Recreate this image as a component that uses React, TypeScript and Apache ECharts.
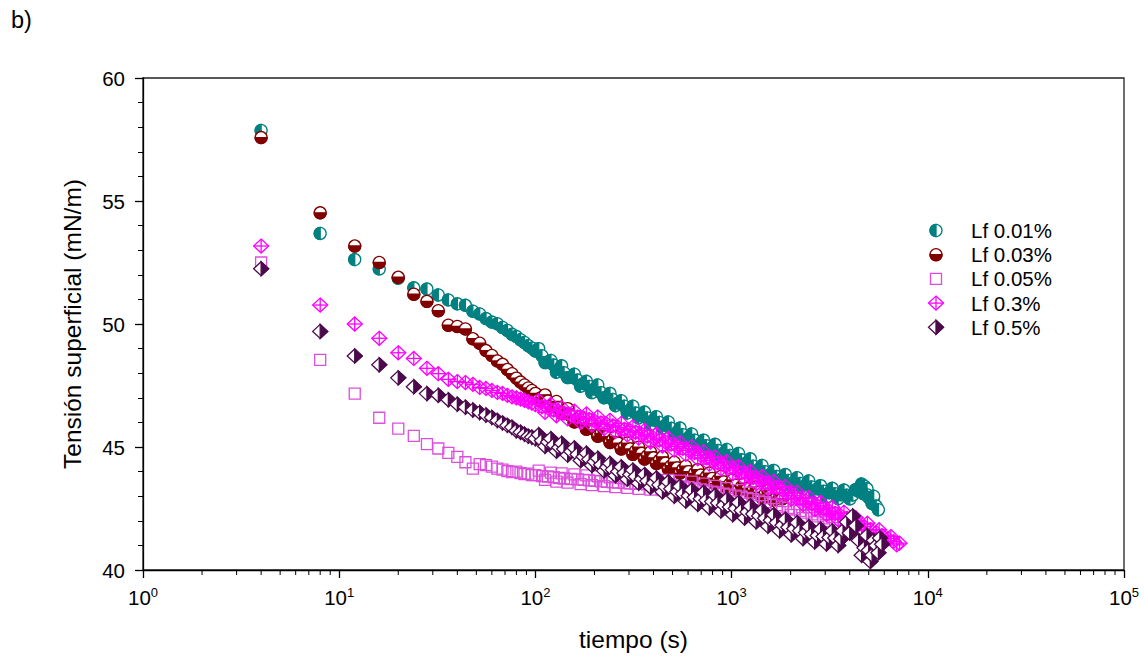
import { useEffect, useRef } from "react";
import * as echarts from "echarts";

// Tiempo de medida (s), común a todas las series
const tiempo = [
  4, 8, 12, 16, 20, 24, 28, 32, 36, 40,
  44, 48, 52, 56, 60, 64, 68, 72, 76, 80,
  84, 88, 92, 96, 100, 108, 116, 124, 132, 140,
  152, 164, 176, 188, 200, 216, 232, 248, 264, 284,
  304, 324, 348, 372, 400, 428, 460, 492, 528, 564,
  604, 648, 696, 744, 796, 852, 912, 980, 1048, 1124,
  1204, 1288, 1380, 1480, 1584, 1696, 1816, 1944, 2084, 2232,
  2392, 2560, 2744, 2940, 3148, 3372, 3612, 3868, 4144, 4440,
  4756, 5092, 5456, 5844, 6260, 6704, 7180,
];

// Lecturas intermedias (s), a partir de 100 s
const tiempoIntermedio = [
  104, 112, 120, 128, 136, 146, 158, 170, 182, 194,
  208, 224, 240, 256, 274, 294, 314, 336, 360, 386,
  414, 444, 476, 510, 546, 584, 626, 672, 720, 770,
  824, 882, 946, 1014, 1086, 1164, 1246, 1334, 1430, 1532,
  1640, 1756, 1880, 2014, 2158, 2312, 2476, 2652, 2842, 3044,
  3260, 3492, 3740, 4006, 4292, 4598, 4924, 5274, 5650, 6052,
  6482, 6942,
];

// Tensión superficial (mN/m) de cada concentración
const lf001 = [
  57.87, 53.68, 52.62, 52.24, 51.86, 51.47, 51.42, 51.18, 50.98, 50.82,
  50.76, 50.52, 50.41, 50.22, 50.08, 50.01, 49.86, 49.74, 49.58, 49.49,
  49.36, 49.25, 49.12, 49.02, 48.9, 48.71, 48.46, 48.33, 48.15, 48.02,
  47.83, 47.72, 47.58, 47.46, 47.36, 47.21, 47.04, 46.93, 46.79, 46.66,
  46.5, 46.38, 46.27, 46.18, 46.1, 46.0, 45.88, 45.76, 45.6, 45.5,
  45.38, 45.28, 45.14, 45.05, 44.96, 44.86, 44.75, 44.66, 44.6, 44.48,
  44.38, 44.22, 44.1, 44.0, 43.9, 43.8, 43.72, 43.64, 43.58, 43.52,
  43.46, 43.38, 43.3, 43.2, 43.14, 43.1, 43.06, 43.04, 43.05, 43.2,
  43.4, 42.9, 42.6,
];
const lf001m = [
  49.0, 48.43, 48.52, 48.04, 48.3, 47.82, 47.96, 47.47, 47.67, 47.21,
  47.52, 47.0, 47.18, 46.68, 46.88, 46.38, 46.66, 46.18, 46.42, 45.92,
  46.23, 45.78, 46.02, 45.48, 45.77, 45.28, 45.53, 45.01, 45.28, 44.82,
  45.11, 44.6, 44.9, 44.45, 44.74, 44.23, 44.52, 43.98, 44.25, 43.75,
  44.05, 43.58, 43.88, 43.41, 43.75, 43.31, 43.62, 43.14, 43.43, 42.97,
  43.32, 42.9, 43.25, 42.89, 43.27, 43.5, 43.05, 42.85,
];
const colaLf001 = [
  [4600, 43.45], [4700, 43.1], [4900, 43.3], [5000, 42.95],
  [5200, 42.7], [5300, 43.0], [5600, 42.45],
];

const lf003 = [
  57.58, 54.52, 53.17, 52.5, 51.9, 51.21, 50.92, 50.54, 49.95, 49.9,
  49.8, 49.4, 49.22, 48.92, 48.72, 48.5, 48.36, 48.15, 47.98, 47.8,
  47.64, 47.52, 47.4, 47.3, 47.18, 47.02, 46.86, 46.74, 46.6, 46.47,
  46.26, 46.1, 45.96, 45.83, 45.7, 45.55, 45.42, 45.3, 45.16, 45.0,
  44.92, 44.84, 44.74, 44.64, 44.56, 44.46, 44.34, 44.24, 44.15, 44.08,
  44.0, 43.93, 43.86, 43.8, 43.72, 43.66, 43.58, 43.5, 43.45, 43.38,
  43.32, 43.25, 43.16, 43.08, 43.02, 42.96, 42.9,
];
const lf003m = [
  46.95, 47.12, 46.64, 46.85, 46.36, 46.56, 46.02, 46.23, 45.72, 45.96,
  45.44, 45.68, 45.18, 45.43, 44.92, 45.16, 44.7, 44.99, 44.51, 44.8,
  44.33, 44.6, 44.11, 44.38, 43.94, 44.22, 43.78, 44.08, 43.65, 43.94,
  43.51, 43.8, 43.36, 43.66, 43.24, 43.53, 43.1, 43.38, 42.94, 43.23,
  42.83, 43.08,
];

const lf005 = [
  52.5, 48.54, 47.17, 46.19, 45.75, 45.45, 45.12, 44.94, 44.76, 44.6,
  44.38, 44.12, 44.3, 44.26, 44.2, 44.12, 44.08, 44.02, 43.98, 44.0,
  43.94, 43.9, 43.92, 43.86, 43.86, 43.82, 43.8, 43.77, 43.74, 43.72,
  43.7, 43.68, 43.66, 43.64, 43.62, 43.6, 43.58, 43.56, 43.55, 43.53,
  43.52, 43.5, 43.5, 43.48, 43.47, 43.46, 43.45, 43.44, 43.42, 43.4,
  43.37, 43.33, 43.28, 43.24, 43.19, 43.15, 43.1, 43.06, 43.02, 42.98,
  42.93, 42.88, 42.82, 42.76, 42.7, 42.64, 42.58, 42.52, 42.46, 42.4,
  42.33, 42.26, 42.18, 42.1, 42.0, 41.9,
];
const lf005m = [
  44.04, 43.66, 43.96, 43.59, 43.93, 43.55, 43.89, 43.49, 43.85, 43.45,
  43.81, 43.41, 43.77, 43.37, 43.74, 43.34, 43.71, 43.3, 43.69, 43.27,
  43.66, 43.25, 43.66, 43.21, 43.63, 43.16, 43.59, 43.06, 43.51, 42.96,
  43.42, 42.87, 43.33, 42.79, 43.25, 42.7, 43.15, 42.6, 43.04, 42.48,
  42.92, 42.36, 42.8, 42.24, 42.68, 42.11, 42.55, 41.97, 42.39, 41.83,
  42.15,
];

const lf03 = [
  53.17, 50.77, 50.0, 49.42, 48.83, 48.6, 48.2, 47.98, 47.75, 47.66,
  47.62, 47.55, 47.42, 47.38, 47.3, 47.22, 47.18, 47.1, 47.04, 47.0,
  46.95, 46.9, 46.84, 46.78, 46.72, 46.64, 46.58, 46.5, 46.44, 46.38,
  46.3, 46.22, 46.18, 46.12, 46.06, 45.98, 45.92, 45.86, 45.8, 45.72,
  45.66, 45.6, 45.52, 45.44, 45.36, 45.28, 45.2, 45.12, 45.02, 44.94,
  44.86, 44.78, 44.66, 44.56, 44.45, 44.36, 44.26, 44.16, 44.06, 43.96,
  43.86, 43.76, 43.66, 43.56, 43.46, 43.36, 43.26, 43.14, 43.02, 42.92,
  42.8, 42.7, 42.6, 42.5, 42.4, 42.3, 42.2, 42.1, 41.98, 41.86,
  41.76, 41.64, 41.52, 41.4, 41.28, 41.16, 41.09,
];
const lf03m = [
  46.88, 46.41, 46.74, 46.27, 46.61, 46.14, 46.46, 46.0, 46.35, 45.89,
  46.22, 45.75, 46.09, 45.63, 45.96, 45.49, 45.83, 45.36, 45.68, 45.2,
  45.52, 45.04, 45.36, 44.87, 45.18, 44.7, 45.02, 44.52, 44.81, 44.3,
  44.6, 44.11, 44.41, 43.91, 44.21, 43.71, 44.01, 43.51, 43.81, 43.31,
  43.61, 43.11, 43.4, 42.88, 43.17, 42.66, 42.95, 42.45, 42.75, 42.25,
  42.55, 42.05, 42.35, 41.84, 42.12, 41.61, 41.9, 41.38, 41.64, 41.18,
  41.36, 41.02,
];

const lf05 = [
  52.25, 49.7, 48.7, 48.34, 47.81, 47.45, 47.17, 47.1, 46.92, 46.74,
  46.62, 46.5, 46.4, 46.3, 46.2, 46.08, 45.98, 45.88, 45.8, 45.66,
  45.6, 45.52, 45.44, 45.4, 45.34, 45.26, 45.2, 45.08, 44.98, 44.92,
  44.82, 44.7, 44.6, 44.5, 44.4, 44.28, 44.18, 44.08, 44.0, 43.94,
  43.88, 43.8, 43.7, 43.62, 43.54, 43.46, 43.38, 43.3, 43.18, 43.1,
  43.02, 42.96, 42.9, 42.84, 42.78, 42.72, 42.64, 42.56, 42.5, 42.42,
  42.36, 42.28, 42.2, 42.1, 42.02, 41.92, 41.82, 41.74, 41.68, 41.6,
  41.52, 41.45, 41.4, 41.36, 41.32, 41.3, 41.26, 41.95, 42.2, 41.2,
  40.9, 40.35, 41.0, 41.05,
];
const lf05m = [
  45.5, 45.03, 45.34, 44.83, 45.15, 44.67, 44.96, 44.45, 44.75, 44.25,
  44.54, 44.03, 44.33, 43.84, 44.19, 43.69, 44.06, 43.53, 43.88, 43.36,
  43.74, 43.18, 43.58, 43.0, 43.4, 42.8, 43.25, 42.67, 43.15, 42.53,
  43.03, 42.4, 42.88, 42.25, 42.74, 42.11, 42.6, 41.96, 42.43, 41.78,
  42.25, 41.59, 42.06, 41.43, 41.92, 41.28, 41.76, 41.14, 41.66, 41.06,
  41.59, 41.0,
];
const colaLf05 = [
  [3700, 41.6], [4000, 41.5], [4300, 41.8], [4600, 40.6], [4900, 41.4],
  [5000, 40.8], [5200, 40.6], [5300, 41.2], [5600, 40.7], [5700, 41.3],
];

// Exponentes de las etiquetas del eje X (10^n)
const exponentesX = [0, 1, 2, 3, 4, 5];

const FUENTE = "'Liberation Sans', Arial, Helvetica, sans-serif";

type Forma = "circuloIzq" | "circuloInf" | "cuadrado" | "romboCruz" | "romboDer";

function marcador(forma: Forma, cx: number, cy: number, color: string): any[] {
  const lw = 1.3;
  const r = 6;
  const w = 7.5;
  const h = 7;
  switch (forma) {
    case "circuloIzq":
      return [
        { type: "circle", shape: { cx, cy, r }, style: { fill: "#fff", stroke: color, lineWidth: lw } },
        {
          type: "sector",
          shape: { cx, cy, r0: 0, r, startAngle: Math.PI / 2, endAngle: Math.PI * 1.5, clockwise: true },
          style: { fill: color, stroke: color, lineWidth: lw },
        },
      ];
    case "circuloInf":
      return [
        { type: "circle", shape: { cx, cy, r }, style: { fill: "#fff", stroke: color, lineWidth: lw } },
        {
          type: "sector",
          shape: { cx, cy, r0: 0, r, startAngle: 0, endAngle: Math.PI, clockwise: true },
          style: { fill: color, stroke: color, lineWidth: lw },
        },
      ];
    case "cuadrado":
      return [
        {
          type: "rect",
          shape: { x: cx - 5.5, y: cy - 5.5, width: 11, height: 11 },
          style: { fill: "none", stroke: color, lineWidth: lw },
        },
      ];
    case "romboCruz":
      return [
        {
          type: "polygon",
          shape: { points: [[cx, cy - h], [cx + w, cy], [cx, cy + h], [cx - w, cy]] },
          style: { fill: "none", stroke: color, lineWidth: lw },
        },
        { type: "line", shape: { x1: cx - w, y1: cy, x2: cx + w, y2: cy }, style: { stroke: color, lineWidth: lw } },
        { type: "line", shape: { x1: cx, y1: cy - h, x2: cx, y2: cy + h }, style: { stroke: color, lineWidth: lw } },
      ];
    case "romboDer":
    default:
      return [
        {
          type: "polygon",
          shape: { points: [[cx, cy - h], [cx + w, cy], [cx, cy + h], [cx - w, cy]] },
          style: { fill: "#fff", stroke: color, lineWidth: lw },
        },
        {
          type: "polygon",
          shape: { points: [[cx, cy - h], [cx + w, cy], [cx, cy + h]] },
          style: { fill: color, stroke: color, lineWidth: lw },
        },
      ];
  }
}

const emparejar = (valores: number[]) => valores.map((v, i) => [tiempo[i], v]);
const emparejarIntermedio = (valores: number[]) => valores.map((v, i) => [tiempoIntermedio[i], v]);

// Puntos ordenados por tiempo para que el solapamiento siga el orden de medida
const unir = (...listas: number[][][]) => listas.flat().sort((a, b) => a[0] - b[0]);

const conjuntos: { nombre: string; color: string; forma: Forma; puntos: number[][] }[] = [
  {
    nombre: "Lf 0.01%",
    color: "#008080",
    forma: "circuloIzq",
    puntos: unir(emparejar(lf001), emparejarIntermedio(lf001m), colaLf001),
  },
  {
    nombre: "Lf 0.03%",
    color: "#800000",
    forma: "circuloInf",
    puntos: unir(emparejar(lf003), emparejarIntermedio(lf003m)),
  },
  {
    nombre: "Lf 0.05%",
    color: "#DD4EDD",
    forma: "cuadrado",
    puntos: unir(emparejar(lf005), emparejarIntermedio(lf005m)),
  },
  {
    nombre: "Lf 0.3%",
    color: "#FF00FF",
    forma: "romboCruz",
    puntos: unir(emparejar(lf03), emparejarIntermedio(lf03m)),
  },
  {
    nombre: "Lf 0.5%",
    color: "#4C0A4C",
    forma: "romboDer",
    puntos: unir(emparejar(lf05), emparejarIntermedio(lf05m), colaLf05),
  },
];

// Marcas menores del eje logarítmico: 2..9 de cada década
const marcasMenoresX: number[] = [];
for (let e = 0; e < 5; e++) {
  for (let m = 2; m <= 9; m++) marcasMenoresX.push(m * Math.pow(10, e));
}

export default function App() {
  const ref = useRef<HTMLDivElement>(null);

  useEffect(() => {
    if (!ref.current) return;
    const chart = echarts.init(ref.current, undefined, { renderer: "svg" });

    const leyendaX = 936;
    const leyendaY0 = 230.5;
    const paso = 24.2;
    const leyenda: any[] = [];
    conjuntos.forEach((c, i) => {
      const y = leyendaY0 + i * paso;
      leyenda.push(...marcador(c.forma, leyendaX, y, c.color));
      leyenda.push({
        type: "text",
        x: 971,
        y,
        style: { text: c.nombre, fontSize: 20.5, fontFamily: FUENTE, fill: "#000", verticalAlign: "middle" },
      });
    });

    const series: any[] = conjuntos.map((c) => ({
      type: "custom",
      name: c.nombre,
      data: c.puntos,
      encode: { x: 0, y: 1 },
      clip: false,
      silent: true,
      renderItem: (_params: any, api: any) => {
        const p = api.coord([api.value(0), api.value(1)]);
        return { type: "group", children: marcador(c.forma, p[0], p[1], c.color) };
      },
    }));

    series.push({
      type: "custom",
      name: "marcas",
      data: marcasMenoresX.map((v) => [v, 40]),
      encode: { x: 0, y: 1 },
      clip: false,
      silent: true,
      renderItem: (_params: any, api: any) => {
        const p = api.coord([api.value(0), api.value(1)]);
        return {
          type: "line",
          shape: { x1: p[0], y1: p[1], x2: p[0], y2: p[1] + 5 },
          style: { stroke: "#000", lineWidth: 1 },
        };
      },
    });

    chart.setOption({
      animation: false,
      backgroundColor: "#fff",
      title: {
        text: "b)",
        left: 11,
        top: 8,
        padding: 0,
        textStyle: { fontSize: 23.5, fontWeight: "normal", color: "#000", fontFamily: FUENTE },
      },
      grid: {
        left: 143,
        right: 22,
        top: 78,
        bottom: 85,
        show: true,
        borderColor: "#222",
        borderWidth: 1.3,
      },
      xAxis: {
        type: "log",
        logBase: 10,
        min: 1,
        max: 100000,
        splitNumber: 5,
        axisLine: { show: true, lineStyle: { color: "#000", width: 1.3 } },
        axisTick: { show: true, length: 8, lineStyle: { color: "#000", width: 1.3 } },
        splitLine: { show: false },
        axisLabel: {
          margin: 16,
          color: "#000",
          formatter: (v: number) => {
            const e = Math.round(Math.log10(v));
            return exponentesX.includes(e) ? `{b|10}{s|${e}}` : "";
          },
          rich: {
            b: { fontSize: 20.5, fontFamily: FUENTE, color: "#000" },
            s: { fontSize: 13, fontFamily: FUENTE, color: "#000", padding: [0, 0, 10, 0] },
          },
        },
        name: "tiempo (s)",
        nameLocation: "middle",
        nameGap: 57,
        nameTextStyle: { fontSize: 24.5, color: "#000", fontFamily: FUENTE, verticalAlign: "top" },
      },
      yAxis: {
        type: "value",
        min: 40,
        max: 60,
        interval: 5,
        axisLine: { show: true, lineStyle: { color: "#000", width: 1.3 } },
        axisTick: { show: true, length: 8, lineStyle: { color: "#000", width: 1.3 } },
        minorTick: { show: true, splitNumber: 5, length: 5, lineStyle: { color: "#000", width: 1 } },
        splitLine: { show: false },
        minorSplitLine: { show: false },
        axisLabel: { margin: 18, fontSize: 20.5, color: "#000", fontFamily: FUENTE },
        name: "Tensión superficial (mN/m)",
        nameLocation: "middle",
        nameGap: 58,
        nameTextStyle: { fontSize: 24.5, color: "#000", fontFamily: FUENTE },
      },
      graphic: [{ type: "group", silent: true, children: leyenda }],
      series,
    });

    return () => chart.dispose();
  }, []);

  return <div ref={ref} style={{ position: "fixed", left: 0, top: 0, width: 1146, height: 657 }} />;
}
